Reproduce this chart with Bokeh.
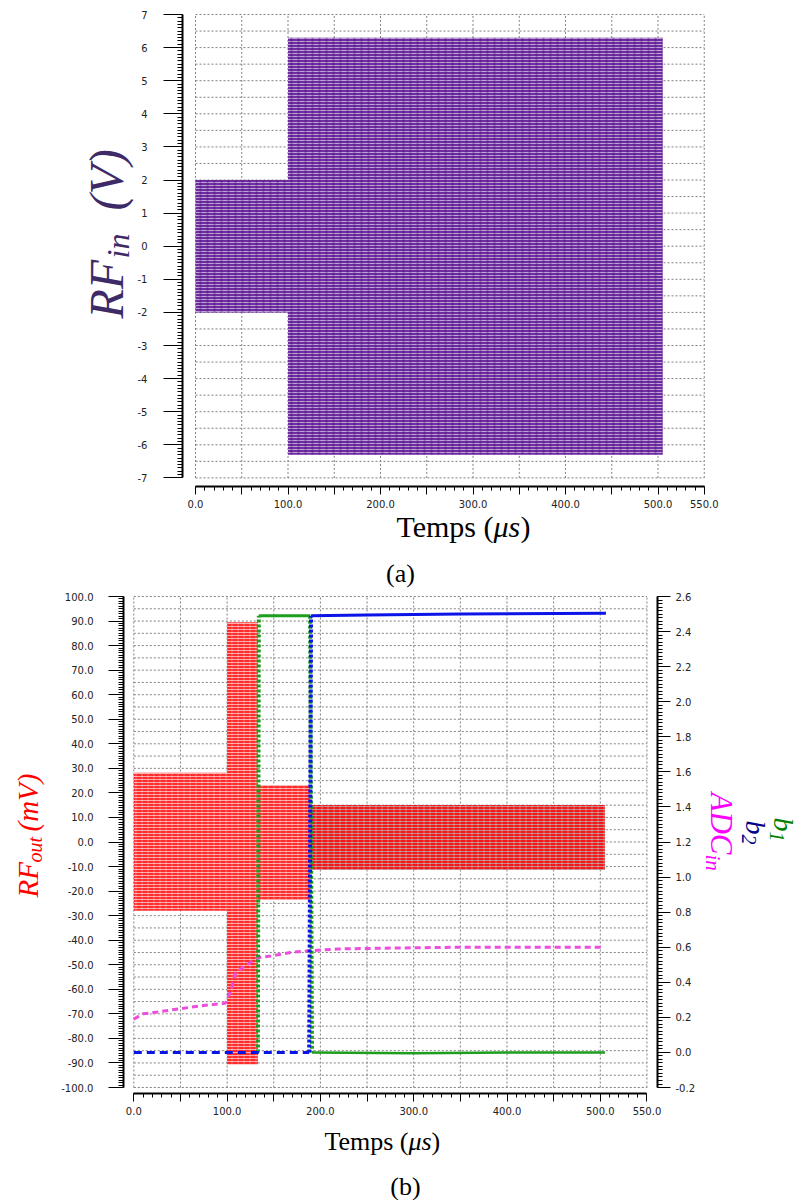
import numpy as np
from math import pi
from bokeh.plotting import figure
from bokeh.models import (Range1d, LinearAxis, FixedTicker, PrintfTickFormatter, Label, Grid)
from bokeh.layouts import column
from bokeh.embed import file_html
from bokeh.resources import INLINE

# ---------------- data ----------------
# (a) RF_in envelope of the dense carrier, volts
rfin_start = [0, 100]
rfin_end = [100, 505]
rfin_high = [2.0, 6.3]
rfin_low = [-2.0, -6.3]

# (b) RF_out envelope of the dense carrier, mV
rfout_start = [0, 100, 133, 189]
rfout_end = [100, 133, 189, 505]
rfout_high = [28.2, 89.5, 23.0, 15.1]
rfout_low = [-28.0, -90.5, -23.5, -11.4]

# ADC_in (right axis, V)
adc_t = [0, 10, 25, 50, 79, 98, 104, 109, 118, 133, 147, 168, 189, 218, 275, 350, 420, 503]
adc_v = [0.19, 0.22, 0.23, 0.25, 0.27, 0.28, 0.35, 0.45, 0.49, 0.54, 0.55, 0.57, 0.58, 0.59, 0.595, 0.60, 0.60, 0.60]

# b1 (green) and b2 (blue), right axis, V
b1_t = [133, 134, 189, 191, 300, 420, 505]
b1_v = [0.0, 2.49, 2.49, 0.0, -0.005, 0.0, 0.0]
b2_t = [0, 188, 190, 250, 350, 506]
b2_v = [0.0, 0.0, 2.49, 2.495, 2.50, 2.505]

# tick labels
time_ticks = [0, 100, 200, 300, 400, 500, 550]
rfin_ticks = [-7, -6, -5, -4, -3, -2, -1, 0, 1, 2, 3, 4, 5, 6, 7]
rfout_ticks = [-100, -90, -80, -70, -60, -50, -40, -30, -20, -10, 0, 10, 20, 30, 40, 50, 60, 70, 80, 90, 100]
volt_ticks = [-0.2, 0.0, 0.2, 0.4, 0.6, 0.8, 1.0, 1.2, 1.4, 1.6, 1.8, 2.0, 2.2, 2.4, 2.6]

# ---------------- layout helpers (page pixel -> data) ----------------
W = 801
A_TOP_PAGE, A_H = 0, 588
B_TOP_PAGE, B_H = 588, 612

A_X0, A_PX = 195.0, 0.925      # page x of t=0, px per unit
A_Y7, A_PY = 14.0, 33.1        # page y of 7 V, px per V
def tA(X): return (X - A_X0) / A_PX
def vA(Y): return 7.0 - (Y - A_Y7) / A_PY

B_X0, B_PX = 133.3, 0.933
B_Y100, B_PY = 596.0, 2.455
R_PY = 175.36
def tB(X): return (X - B_X0) / B_PX
def vB(Y): return 100.0 - (Y - B_Y100) / B_PY
def rB(Y): return 2.6 - (Y - B_Y100) / R_PY

TICK_FONT = "DejaVu Sans"
SERIF = "Liberation Serif"
GRID_COLOR = "#808080"
SHIFT = 0.33   # baseline correction for rotated labels (fraction of font size)

def style_axis(ax, tick_out, minor_out, standoff):
    ax.axis_line_color = "black"
    ax.axis_line_width = 2
    ax.major_tick_line_color = "black"
    ax.minor_tick_line_color = "black"
    ax.major_tick_in = 0
    ax.minor_tick_in = 0
    ax.major_tick_out = tick_out
    ax.minor_tick_out = minor_out
    ax.major_label_standoff = standoff
    ax.major_label_text_font = TICK_FONT
    ax.major_label_text_font_size = "10px"
    ax.major_label_text_color = "#222222"

def time_axis(ax):
    major = list(range(0, 551, 50))
    ax.ticker = FixedTicker(ticks=major, minor_ticks=list(range(0, 551, 10)))
    ax.formatter = PrintfTickFormatter(format="%.1f")
    ax.major_label_overrides = {float(m): "" for m in major if m not in time_ticks}
    ax.bounds = (0, 550)
    style_axis(ax, 8, 4, 5)

def add_grid(p, xs, ys, x0, x1, y0, y1):
    p.segment(x0=[x0] * len(ys), x1=[x1] * len(ys), y0=ys, y1=ys,
              line_color=GRID_COLOR, line_dash="2 2", line_width=1)
    p.segment(x0=xs, x1=xs, y0=[y0] * len(xs), y1=[y1] * len(xs),
              line_color=GRID_COLOR, line_dash="2 2", line_width=1)

def lab(p, x, y, text, size, color, angle=0.0, style="italic", align="left",
        baseline="alphabetic", font=SERIF):
    p.add_layout(Label(x=x, y=y, text=text, angle=angle, text_font=font,
                       text_font_size=f"{size}px", text_font_style=style,
                       text_color=color, text_align=align, text_baseline=baseline))

def up_label(p, tf, vf, X, Y, text, size, color):
    # rotated 90deg counter-clockwise, baseline at page x = X, starting at page y = Y
    lab(p, tf(X - SHIFT * size), vf(Y), text, size, color, angle=pi / 2)

def down_label(p, tf, vf, X, Y, text, size, color):
    # rotated 90deg clockwise, baseline at page x = X, starting at page y = Y
    lab(p, tf(X + SHIFT * size), vf(Y), text, size, color, angle=-pi / 2)

def base_fig(xr, yr, h):
    p = figure(width=W, height=h, x_range=xr, y_range=yr, min_border=0,
               x_axis_location=None, y_axis_location=None,
               output_backend="svg", toolbar_location=None)
    p.outline_line_color = None
    p.background_fill_color = "white"
    p.border_fill_color = "white"
    for r in p.center:
        if isinstance(r, Grid):
            r.visible = False
    return p

# ================= figure (a) =================
pA = base_fig(Range1d(tA(0), tA(W)), Range1d(vA(A_TOP_PAGE + A_H), vA(A_TOP_PAGE)), A_H)

add_grid(pA, list(range(0, 551, 50)), list(np.arange(-7, 7.01, 0.5)), 0, 550, -7, 7)

pA.quad(left=rfin_start, right=rfin_end, bottom=rfin_low, top=rfin_high,
        fill_color="#6e2ea2", fill_alpha=1.0, line_color=None,
        hatch_pattern="horizontal_line", hatch_color="white", hatch_alpha=0.55,
        hatch_scale=3, hatch_weight=1)
pA.quad(left=rfin_start, right=rfin_end, bottom=rfin_low, top=rfin_high,
        fill_alpha=0, line_color=None,
        hatch_pattern="vertical_line", hatch_color="#4a0a78", hatch_alpha=0.35,
        hatch_scale=7, hatch_weight=2)

ax = LinearAxis(fixed_location=vA(486))
time_axis(ax)
pA.add_layout(ax, "below")
ay = LinearAxis(fixed_location=tA(182))
ay.ticker = FixedTicker(ticks=rfin_ticks, minor_ticks=list(np.round(np.arange(-7, 7.001, 0.1), 2)))
ay.formatter = PrintfTickFormatter(format="%d")
ay.bounds = (-7, 7)
style_axis(ay, 19, 5, 16)
pA.add_layout(ay, "left")

# y label  RF_in (V)  (rotated, reads upward)
PURPLE_TXT = "#3d2a66"
up_label(pA, tA, vA, 122, 318, "RF", 48, PURPLE_TXT)
up_label(pA, tA, vA, 128, 258, "in", 32, PURPLE_TXT)
up_label(pA, tA, vA, 122, 210, "(V)", 48, PURPLE_TXT)

# x label  Temps (μs)
lab(pA, tA(493), vA(526), "Temps (", 30, "black", style="normal", align="right", baseline="middle")
lab(pA, tA(493), vA(526), "μs", 30, "black", align="left", baseline="middle")
lab(pA, tA(520), vA(526), ")", 30, "black", style="normal", align="left", baseline="middle")
lab(pA, tA(400), vA(573), "(a)", 26, "black", style="normal", align="center", baseline="middle")

# ================= figure (b) =================
pB = base_fig(Range1d(tB(0), tB(W)), Range1d(vB(B_TOP_PAGE + B_H), vB(B_TOP_PAGE)), B_H)
pB.extra_y_ranges = {"volt": Range1d(rB(B_TOP_PAGE + B_H), rB(B_TOP_PAGE))}

add_grid(pB, list(range(0, 551, 50)), list(range(-100, 101, 5)), 0, 550, -100, 100)

pB.quad(left=rfout_start[:3], right=rfout_end[:3], bottom=rfout_low[:3], top=rfout_high[:3],
        fill_color="#ff2a2a", fill_alpha=1.0, line_color=None,
        hatch_pattern="horizontal_line", hatch_color="white", hatch_alpha=0.6,
        hatch_scale=3, hatch_weight=1)
pB.quad(left=rfout_start[3:], right=rfout_end[3:], bottom=rfout_low[3:], top=rfout_high[3:],
        fill_color="#f01818", fill_alpha=1.0, line_color=None,
        hatch_pattern="horizontal_line", hatch_color="#b4a8a8", hatch_alpha=0.8,
        hatch_scale=3, hatch_weight=1)
pB.quad(left=rfout_start, right=rfout_end, bottom=rfout_low, top=rfout_high,
        fill_alpha=0, line_color=None,
        hatch_pattern="vertical_line", hatch_color="white", hatch_alpha=0.3,
        hatch_scale=6, hatch_weight=1)

# ADC_in
pB.line(adc_t, adc_v, y_range_name="volt", line_color="#ec4fdc", line_width=3, line_dash="6 4")

# b1 (green)
pB.line(b1_t[0:2], b1_v[0:2], y_range_name="volt", line_color="#1e9e1e", line_width=4, line_dash="3 2")
pB.line(b1_t[1:3], b1_v[1:3], y_range_name="volt", line_color="#1e9e1e", line_width=3)
pB.line(b1_t[2:4], b1_v[2:4], y_range_name="volt", line_color="#1e9e1e", line_width=4, line_dash="3 2")
pB.line(b1_t[3:], b1_v[3:], y_range_name="volt", line_color="#1e9e1e", line_width=2.5)

# b2 (blue)
pB.line(b2_t[0:2], b2_v[0:2], y_range_name="volt", line_color="#0a14e6", line_width=3, line_dash="8 5")
pB.line(b2_t[1:3], b2_v[1:3], y_range_name="volt", line_color="#0a14e6", line_width=4, line_dash="3 2")
pB.line(b2_t[2:], b2_v[2:], y_range_name="volt", line_color="#0a14e6", line_width=3)

bx = LinearAxis(fixed_location=vB(1093))
time_axis(bx)
pB.add_layout(bx, "below")
by = LinearAxis(fixed_location=tB(123))
by.ticker = FixedTicker(ticks=rfout_ticks, minor_ticks=list(range(-100, 101, 1)))
by.formatter = PrintfTickFormatter(format="%.1f")
by.bounds = (-100, 100)
style_axis(by, 15, 5, 15)
pB.add_layout(by, "left")

ry = LinearAxis(y_range_name="volt", fixed_location=tB(657))
ry.ticker = FixedTicker(ticks=volt_ticks, minor_ticks=list(np.round(np.arange(-0.2, 2.6001, 0.02), 2)))
ry.formatter = PrintfTickFormatter(format="%.1f")
ry.bounds = (-0.2, 2.6)
style_axis(ry, 13, 5, 5)
pB.add_layout(ry, "right")

# left label RF_out (mV)
up_label(pB, tB, vB, 37, 897, "RF", 29, "#ff0000")
up_label(pB, tB, vB, 41, 862, "out", 20, "#ff0000")
up_label(pB, tB, vB, 37, 831, "(mV)", 29, "#ff0000")

# right labels (rotated, read downward)
down_label(pB, tB, vB, 711, 792, "ADC", 31, "#ff00ff")
down_label(pB, tB, vB, 706, 854, "in", 21, "#ff00ff")
down_label(pB, tB, vB, 746, 820, "b", 28, "#00008b")
down_label(pB, tB, vB, 742, 834, "2", 20, "#00008b")
down_label(pB, tB, vB, 774, 817, "b", 28, "#008000")
down_label(pB, tB, vB, 770, 831, "1", 20, "#008000")

# x label Temps (μs) and caption
lab(pB, tB(408), vB(1141), "Temps (", 26, "black", style="normal", align="right", baseline="middle")
lab(pB, tB(408), vB(1141), "μs", 26, "black", align="left", baseline="middle")
lab(pB, tB(431), vB(1141), ")", 26, "black", style="normal", align="left", baseline="middle")
lab(pB, tB(405), vB(1186), "(b)", 26, "black", style="normal", align="center", baseline="middle")

layout = column(pA, pB)
open("out.html", "w").write(file_html(layout, INLINE))
